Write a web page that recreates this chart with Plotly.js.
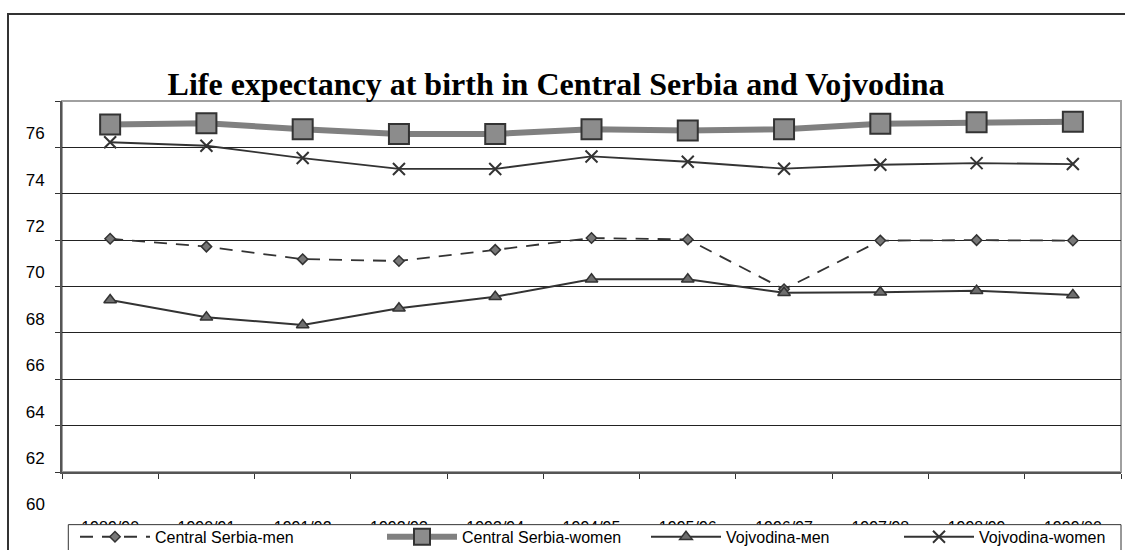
<!DOCTYPE html>
<html>
<head>
<meta charset="utf-8">
<script src="https://cdn.plot.ly/plotly-3.0.1.min.js"></script>
<style>
  body { margin: 0; background: #fff; }
  #chart { width: 1125px; height: 550px; }
</style>
</head>
<body>
<div id="chart"></div>
<script>
// seasons on the x axis
var seasons = ['1989/90', '1990/91', '1991/92', '1992/93', '1993/94', '1994/95',
               '1995/96', '1996/97', '1997/98', '1998/99', '1999/00'];

// life expectancy in years
var csMen   = [72.06, 71.72, 71.18, 71.10, 71.58, 72.09, 72.03, 69.88, 71.98, 72.00, 71.98];
var csWomen = [76.99, 77.04, 76.78, 76.58, 76.58, 76.78, 76.73, 76.78, 77.02, 77.08, 77.11];
var vojMen  = [69.42, 68.67, 68.34, 69.06, 69.56, 70.31, 70.31, 69.73, 69.75, 69.82, 69.63];
var vojWomen = [76.22, 76.07, 75.54, 75.07, 75.07, 75.61, 75.38, 75.08, 75.25, 75.32, 75.28];

var yTicks = [62, 64, 66, 68, 70, 72, 74, 76, 78];
var yLabels = ['62', '64', '66', '68', '70', '72', '74', '76', ''];

var dark = '#333333';

// pixel -> paper helpers (plot area 62..1121 x 101..471.7)
function px(x) { return (x - 62) / 1059; }
function py(y) { return (471.7 - y) / 370.7; }

var data = [
  {
    name: 'Central Serbia-men', x: seasons, y: csMen, type: 'scatter', mode: 'lines+markers',
    line: {color: dark, width: 1.8, dash: '13px,9px'},
    marker: {symbol: 'diamond', size: 8, color: '#777777', line: {color: dark, width: 1.5}},
    legend: 'legend'
  },
  {
    name: 'Central Serbia-women', x: seasons, y: csWomen, type: 'scatter', mode: 'lines+markers',
    line: {color: '#808080', width: 6},
    marker: {symbol: 'square', size: 20, color: '#8c8c8c', line: {color: dark, width: 2}},
    legend: 'legend2'
  },
  {
    name: 'Vojvodina-\u043Cen', x: seasons, y: vojMen, type: 'scatter', mode: 'lines+markers',
    line: {color: dark, width: 2},
    marker: {symbol: 'triangle-up', size: 11, color: '#6e6e6e', line: {color: dark, width: 1.5}},
    legend: 'legend3'
  },
  {
    name: 'Vojvodina-women', x: seasons, y: vojWomen, type: 'scatter', mode: 'lines+markers',
    line: {color: dark, width: 1.8},
    marker: {symbol: 'x-thin', size: 12, color: dark, line: {color: dark, width: 2}},
    legend: 'legend4'
  }
];

function leg(x) {
  return {
    visible: true,
    x: px(x), xanchor: 'left', y: py(536.5), yanchor: 'middle',
    orientation: 'h', bgcolor: 'rgba(0,0,0,0)', borderwidth: 0,
    itemwidth: 70,
    font: {family: 'Liberation Sans, Arial, sans-serif', size: 16, color: '#000'}
  };
}

var layout = {
  width: 1125, height: 550,
  margin: {l: 62, r: 4, t: 101, b: 78.3, autoexpand: false},
  paper_bgcolor: '#fff', plot_bgcolor: '#fff',
  font: {family: 'Liberation Sans, Arial, sans-serif', size: 16, color: '#000'},
  showlegend: true,
  title: {
    text: '<b>Life expectancy at birth in Central Serbia and Vojvodina</b>',
    font: {family: 'Liberation Serif, Times New Roman, serif', size: 32, color: '#000'},
    xref: 'container', x: 556 / 1125, xanchor: 'center',
    yref: 'container', y: 1 - 84 / 550, yanchor: 'middle'
  },
  xaxis: {
    type: 'category', range: [-0.5, 10.5],
    showgrid: false, showline: true, linecolor: '#555', linewidth: 2,
    ticks: 'outside', tickson: 'boundaries', ticklen: 5, tickcolor: '#333',
    ticklabelstandoff: 40,
    tickfont: {size: 16}
  },
  yaxis: {
    range: [62, 78], tickmode: 'array', tickvals: yTicks, ticktext: yLabels,
    showgrid: true, gridcolor: '#222', gridwidth: 1,
    showline: true, linecolor: '#555', linewidth: 2,
    ticks: 'outside', ticklen: 5, tickcolor: '#333',
    ticklabelshift: -14, ticklabelstandoff: 7,
    tickfont: {size: 17},
    zeroline: false
  },
  legend: leg(75),
  legend2: leg(382),
  legend3: leg(646),
  legend4: leg(899),
  shapes: [
    // outer chart frame (runs off the right and bottom of the picture)
    {type: 'rect', xref: 'paper', yref: 'paper', x0: px(8), x1: px(1140), y0: py(600), y1: py(14),
     line: {color: dark, width: 2}, layer: 'below'},
    // light plot border
    {type: 'rect', xref: 'paper', yref: 'paper', x0: 0, x1: 1, y0: 0, y1: 1,
     line: {color: '#a0a0a0', width: 2}, layer: 'below'},
    // legend box, drawn over the x tick labels
    {type: 'rect', xref: 'paper', yref: 'paper', x0: px(68.3), x1: px(1121), y0: py(580), y1: py(524.3),
     line: {color: dark, width: 1}, fillcolor: '#fff', layer: 'above'}
  ],
  annotations: [
    {text: '60', xref: 'paper', yref: 'paper', x: px(47), xanchor: 'right', y: py(504.3), yanchor: 'middle',
     showarrow: false, font: {size: 17, color: '#000'}}
  ]
};

Plotly.newPlot('chart', data, layout, {displayModeBar: false, responsive: false});
</script>
</body>
</html>
